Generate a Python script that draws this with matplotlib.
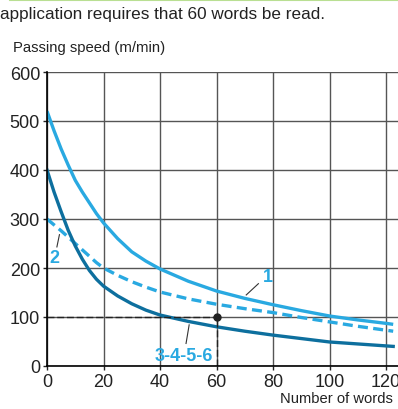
import matplotlib.pyplot as plt
from matplotlib.lines import Line2D

plt.rcParams['font.family'] = ['Liberation Sans', 'DejaVu Sans']

# values
words = [0, 2.5, 5, 7.5, 10, 12.5, 15, 17.5, 20, 25, 30, 35, 40, 50, 60, 70, 80, 90, 100, 110, 120, 122.5]
speed_1 = [520, 480, 443, 410, 379, 355, 333, 311, 292, 260, 233, 214, 198, 173, 153, 138, 125, 113, 102, 94, 87, 85]
speed_2 = [300, 288, 276, 263, 250, 237, 224, 211, 200, 185, 172, 161, 151, 137, 126, 117, 109, 99, 90, 81, 73, 71]
speed_3456 = [400, 355, 315, 277, 245, 218, 195, 177, 163, 143, 127, 114, 104, 91, 80, 71, 63, 56, 49, 45, 41, 40]

x_ticks = [0, 20, 40, 60, 80, 100, 120]
y_ticks = [0, 100, 200, 300, 400, 500, 600]
required_words = 60
required_speed = 100

light = '#29a9e1'
dark = '#0d6f9e'

fig = plt.figure(figsize=(3.98, 4.10), dpi=100)
ax = fig.add_axes([47 / 398, 43 / 410, 351 / 398, 294 / 410])

ax.set_xlim(0, 124.2)
ax.set_ylim(0, 600)
ax.set_xticks(x_ticks)
ax.set_yticks(y_ticks)
ax.grid(True, color='#555555', lw=1)
ax.set_axisbelow(True)
for s in ['top', 'right']:
    ax.spines[s].set_visible(False)
ax.spines['left'].set_linewidth(1.2)
ax.spines['bottom'].set_linewidth(1.2)
ax.tick_params(labelsize=13, length=3, width=1, colors='#222222', pad=2)

ax.plot(words, speed_1, color=light, lw=2.4, solid_capstyle='butt')
ax.plot(words, speed_2, color=light, lw=2.4, ls=(0, (3, 1.6)))
ax.plot(words, speed_3456, color=dark, lw=2.4)

ax.plot([0, required_words], [required_speed, required_speed], color='#222222', lw=1, ls=(0, (5, 2)))
ax.plot([required_words, required_words], [0, required_speed], color='#222222', lw=1, ls=(0, (5, 2)))
ax.plot([required_words], [required_speed], 'o', color='#222222', ms=5)

# curve labels with leaders
ax.plot([70.5, 74.8], [145, 168], color='#333333', lw=0.8)
ax.text(78, 182, '1', color=light, fontsize=13, fontweight='bold', ha='center', va='center')
ax.plot([4.4, 3.5], [268, 243], color='#333333', lw=0.8)
ax.text(2.5, 222, '2', color=light, fontsize=13, fontweight='bold', ha='center', va='center')
ax.plot([50.3, 49.2], [84, 46], color='#333333', lw=0.8)
ax.text(48.5, 22, '3-4-5-6', color=light, fontsize=13, fontweight='bold', ha='center', va='center')

fig.text(13 / 398, 1 - 48 / 410, 'Passing speed (m/min)', fontsize=10.7, color='#222222', va='center')
fig.text(393 / 398, 1 - 399 / 410, 'Number of words', fontsize=10.6, color='#222222', va='center', ha='right')
fig.text(0, 1 - 14 / 410, 'application requires that 60 words be read.', fontsize=12.3, color='#222222', va='center')
fig.add_artist(Line2D([10 / 398, 1], [1 - 0.8 / 410, 1 - 0.8 / 410], color='#b9df92', lw=1.5))

fig.savefig('out.png', dpi=100)
